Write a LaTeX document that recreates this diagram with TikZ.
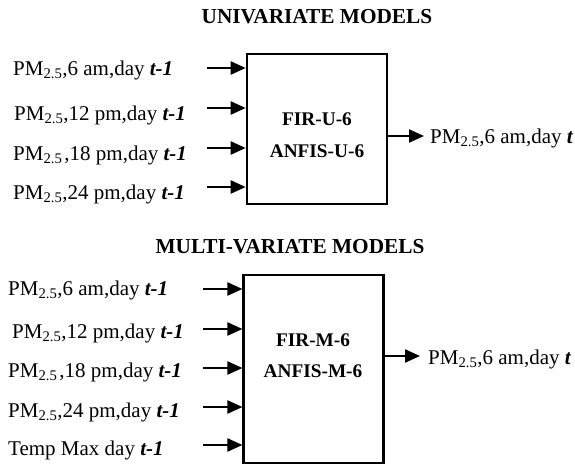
\documentclass[tikz,border=0pt]{standalone}
\usepackage{fontspec}
\setmainfont{Liberation Serif}
\usetikzlibrary{arrows.meta}
\newcommand\PMsub{PM\textsubscript{2.5}}
\newcommand\tmo{\textbf{\textit{t-1}}}
\tikzset{
  lab/.style={anchor=base west, inner sep=0pt, font=\fontsize{21}{25}\selectfont},
  ttl/.style={anchor=base, inner sep=0pt, font=\fontsize{21.3}{25}\selectfont\bfseries},
  boxtxt/.style={anchor=base, inner sep=0pt, font=\fontsize{19.3}{22}\selectfont\bfseries},
  model/.style={draw, line width=2.6pt, inner sep=0pt},
  inarr/.style={line width=2.2pt, -{Triangle[length=15pt,width=13pt]}},
}
\begin{document}
\begin{tikzpicture}[x=1pt,y=-1pt]
\useasboundingbox (0,0) rectangle (575,466);
% ---------- Univariate ----------
\node[ttl] (t1) at (317,23) {UNIVARIATE MODELS};
\node[model, minimum width=140pt, minimum height=150pt] (bu) at (317,129) {};
\node[boxtxt] (bu1) at (317,125) {FIR-U-6};
\node[boxtxt] (bu2) at (317,157) {ANFIS-U-6};
\node[lab] (u1) at (13,75) {\PMsub,6 am,day \tmo};
\node[lab] (u2) at (14,120) {\PMsub,12 pm,day \tmo};
\node[lab] (u3) at (13,160) {\PMsub\kern2pt,18 pm,day \tmo};
\node[lab] (u4) at (13,199) {\PMsub,24 pm,day \tmo};
\coordinate (cu1) at (207,68);
\coordinate (cu2) at (207,108);
\coordinate (cu3) at (207,148);
\coordinate (cu4) at (207,187);
\foreach \i in {1,2,3,4} \draw[inarr] (cu\i) -- (bu.west |- cu\i);
\node[lab] (uo) at (430,143) {\PMsub,6 am,day \textbf{\textit{t}}};
\coordinate (cuo) at (387,136);
\draw[inarr, shorten >=6pt] (cuo) -- (uo.west |- cuo);
% ---------- Multivariate ----------
\node[ttl] (t2) at (290,253) {MULTI-VARIATE MODELS};
\node[model, minimum width=139.5pt, minimum height=188pt] (bm) at (313.5,369) {};
\node[boxtxt] (bm1) at (313,346) {FIR-M-6};
\node[boxtxt] (bm2) at (313,377) {ANFIS-M-6};
\node[lab] (m1) at (8,295) {\PMsub,6 am,day \tmo};
\node[lab] (m2) at (12,338) {\PMsub,12 pm,day \tmo};
\node[lab] (m3) at (8,377) {\PMsub\kern2pt,18 pm,day \tmo};
\node[lab] (m4) at (8,417) {\PMsub,24 pm,day \tmo};
\node[lab] (m5) at (8,455) {Temp Max day \tmo};
\coordinate (cm1) at (203,289);
\coordinate (cm2) at (203,329);
\coordinate (cm3) at (203,368);
\coordinate (cm4) at (203,407);
\coordinate (cm5) at (203,445);
\foreach \i in {1,2,3,4,5} \draw[inarr] (cm\i) -- (bm.west |- cm\i);
\node[lab] (mo) at (428,364) {\PMsub,6 am,day \textbf{\textit{t}}};
\coordinate (cmo) at (383,356);
\draw[inarr, shorten >=8pt] (cmo) -- (mo.west |- cmo);
\end{tikzpicture}
\end{document}
